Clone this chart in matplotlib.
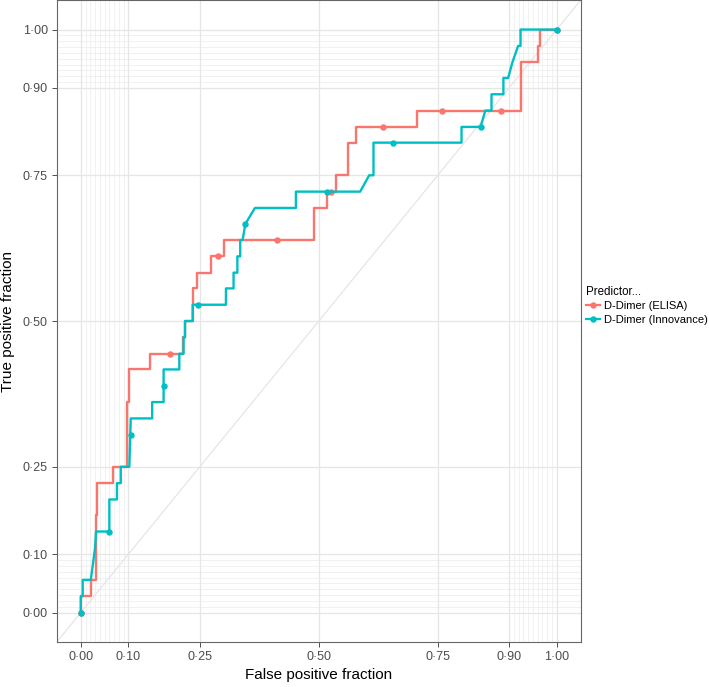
import matplotlib
matplotlib.use("Agg")
import matplotlib.pyplot as plt
from matplotlib.lines import Line2D

plt.rcParams['font.family'] = ['Liberation Sans', 'DejaVu Sans']

# ROC path vertices (false positive fraction, true positive fraction)
elisa_fpf = [0.0, 0.0, 0.021, 0.021, 0.032, 0.032, 0.035, 0.035, 0.068, 0.068,
             0.097, 0.097, 0.101, 0.101, 0.146, 0.146, 0.214, 0.214, 0.219, 0.219,
             0.236, 0.236, 0.244, 0.244, 0.273, 0.273, 0.300, 0.300, 0.489, 0.489,
             0.517, 0.517, 0.536, 0.536, 0.562, 0.562, 0.578, 0.578, 0.706, 0.706,
             0.926, 0.926, 0.961, 0.961, 0.965, 0.965, 1.0]
elisa_tpf = [0.0, 0.028, 0.028, 0.056, 0.056, 0.167, 0.167, 0.222, 0.222, 0.250,
             0.250, 0.361, 0.361, 0.417, 0.417, 0.444, 0.444, 0.472, 0.472, 0.500,
             0.500, 0.556, 0.556, 0.583, 0.583, 0.611, 0.611, 0.639, 0.639, 0.694,
             0.694, 0.722, 0.722, 0.750, 0.750, 0.806, 0.806, 0.833, 0.833, 0.861,
             0.861, 0.944, 0.944, 0.972, 0.972, 1.0, 1.0]
elisa_pts_fpf = [0.0, 0.188, 0.289, 0.412, 0.525, 0.636, 0.758, 0.884, 1.0]
elisa_pts_tpf = [0.0, 0.444, 0.611, 0.639, 0.722, 0.833, 0.861, 0.861, 1.0]

inno_fpf = [0.0, 0.0, 0.004, 0.004, 0.021, 0.030, 0.032, 0.060, 0.060, 0.076,
            0.076, 0.084, 0.084, 0.102, 0.105, 0.150, 0.150, 0.174, 0.174, 0.207,
            0.207, 0.216, 0.216, 0.219, 0.219, 0.235, 0.235, 0.305, 0.305, 0.321,
            0.321, 0.329, 0.329, 0.335, 0.335, 0.340, 0.346, 0.366, 0.452, 0.452,
            0.587, 0.606, 0.615, 0.615, 0.800, 0.800, 0.840, 0.850, 0.863, 0.863,
            0.888, 0.888, 0.898, 0.907, 0.919, 0.924, 0.924, 1.0]
inno_tpf = [0.0, 0.028, 0.028, 0.056, 0.056, 0.111, 0.139, 0.139, 0.194, 0.194,
            0.222, 0.222, 0.250, 0.250, 0.333, 0.333, 0.361, 0.361, 0.417, 0.417,
            0.444, 0.444, 0.472, 0.472, 0.500, 0.500, 0.528, 0.528, 0.556, 0.556,
            0.583, 0.583, 0.611, 0.611, 0.639, 0.639, 0.667, 0.694, 0.694, 0.722,
            0.722, 0.750, 0.750, 0.806, 0.806, 0.833, 0.833, 0.861, 0.861, 0.889,
            0.889, 0.917, 0.917, 0.944, 0.972, 0.972, 1.0, 1.0]
inno_pts_fpf = [0.0, 0.060, 0.105, 0.174, 0.247, 0.346, 0.518, 0.657, 0.840, 1.0]
inno_pts_tpf = [0.0, 0.139, 0.305, 0.389, 0.528, 0.667, 0.722, 0.806, 0.833, 1.0]

breaks = [0, 0.1, 0.25, 0.5, 0.75, 0.9, 1.0]
minor_breaks = [i / 100 for i in range(0, 11)] + [i / 100 for i in range(90, 101)]
labels = ['0·00', '0·10', '0·25', '0·50', '0·75', '0·90', '1·00']

red = '#F8766D'
teal = '#00BFC4'

fig = plt.figure(figsize=(7.09, 6.87), dpi=100)
ax = fig.add_axes([57 / 709, 45.3 / 687, 523.5 / 709, 641.3 / 687])

for m in minor_breaks:
    ax.axvline(m, color='#EBEBEB', lw=0.5, zorder=0)
    ax.axhline(m, color='#EBEBEB', lw=0.5, zorder=0)
for b in breaks:
    ax.axvline(b, color='#E6E6E6', lw=0.9, zorder=0)
    ax.axhline(b, color='#E6E6E6', lw=0.9, zorder=0)

ax.plot([-0.2, 1.2], [-0.2, 1.2], color='#E3E3E3', lw=0.8, zorder=1)

ax.plot(elisa_fpf, elisa_tpf, color=red, lw=1.7, zorder=2)
ax.plot(elisa_pts_fpf, elisa_pts_tpf, 'o', color=red, ms=3.6, zorder=3)
ax.plot(inno_fpf, inno_tpf, color=teal, lw=1.7, zorder=4)
ax.plot(inno_pts_fpf, inno_pts_tpf, 'o', color=teal, ms=3.6, zorder=5)

ax.set_xlim(-0.05, 1.05)
ax.set_ylim(-0.05, 1.05)
ax.set_xticks(breaks)
ax.set_xticklabels(labels)
ax.set_yticks(breaks)
ax.set_yticklabels(labels)
ax.tick_params(axis='both', which='major', length=3.5, width=0.6, color='#333333',
               labelcolor='#4D4D4D', labelsize=9, pad=3)
for s in ax.spines.values():
    s.set_color('#666666')
    s.set_linewidth(0.8)

ax.set_xlabel('False positive fraction', fontsize=11, color='black', labelpad=4)
ax.set_ylabel('True positive fraction', fontsize=11, color='black', labelpad=6)

handles = [
    Line2D([], [], color=red, lw=1.6, marker='o', ms=3.6),
    Line2D([], [], color=teal, lw=1.6, marker='o', ms=3.6),
]
leg = fig.legend(handles, ['D-Dimer (ELISA)', 'D-Dimer (Innovance)'],
                 title='Predictor...', loc='upper left',
                 bbox_to_anchor=(0.815, 0.595), frameon=False, fontsize=8,
                 title_fontsize=8.3, handlelength=1.3, handletextpad=0.35,
                 labelspacing=0.3, borderpad=0.2, alignment='left')

fig.savefig('out.png', dpi=100)
